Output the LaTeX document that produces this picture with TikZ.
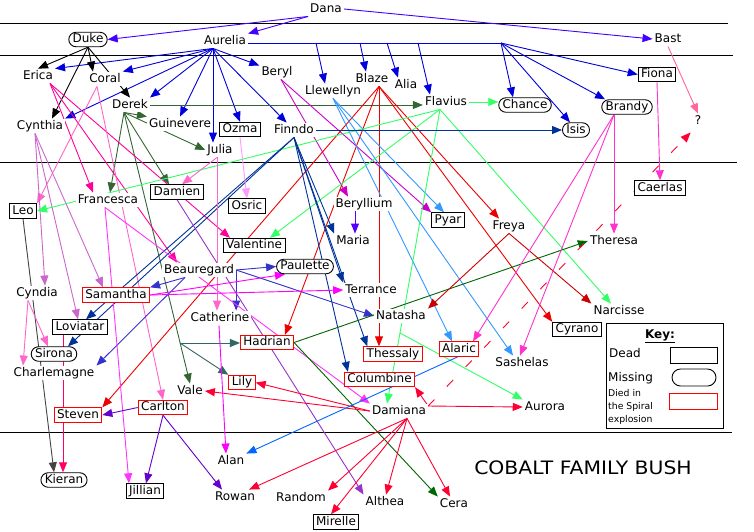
\documentclass[tikz,border=0pt]{standalone}
\usepackage{fontspec}
\setmainfont{DejaVu Sans}
\newfontfamily\titlefont[FakeStretch=1.1]{DejaVu Sans}
\usetikzlibrary{arrows.meta,shapes.misc,backgrounds}
\definecolor{cDana}{RGB}{68,0,255}
\definecolor{cAur}{RGB}{0,0,221}
\definecolor{cDerek}{RGB}{51,102,51}
\definecolor{cErica}{RGB}{255,0,153}
\definecolor{cCoral}{RGB}{255,102,204}
\definecolor{cCyn}{RGB}{204,102,204}
\definecolor{cBeryl}{RGB}{204,0,204}
\definecolor{cBlaze}{RGB}{238,0,0}
\definecolor{cLlew}{RGB}{51,153,255}
\definecolor{cFlav}{RGB}{51,255,102}
\definecolor{cFinn}{RGB}{0,51,153}
\definecolor{cBeau}{RGB}{51,51,204}
\definecolor{cFran}{RGB}{255,51,255}
\definecolor{cDamien}{RGB}{153,51,204}
\definecolor{cOzma}{RGB}{255,153,255}
\definecolor{cSam}{RGB}{255,0,255}
\definecolor{cHad}{RGB}{0,102,0}
\definecolor{cTeal}{RGB}{51,102,102}
\definecolor{cDamiana}{RGB}{255,0,51}
\definecolor{cFreya}{RGB}{204,0,0}
\definecolor{cBrandy}{RGB}{255,51,204}
\definecolor{cBast}{RGB}{255,102,153}
\definecolor{cLeo}{RGB}{68,68,68}
\definecolor{cLov}{RGB}{255,0,102}
\definecolor{cCarl}{RGB}{102,0,204}
\definecolor{cAlaric}{RGB}{0,102,255}
\definecolor{cBeryllium}{RGB}{85,0,255}
\definecolor{cRedBox}{RGB}{255,0,0}
\begin{document}
\begin{tikzpicture}[x=1pt,y=-1pt,
  nm/.style={fill=white, inner xsep=2pt, inner ysep=1.5pt, text height=9pt, text depth=2.5pt, font=\fontsize{12}{14}\selectfont},
  dead/.style={nm, draw=black, line width=0.9pt, inner xsep=3pt},
  spiral/.style={nm, draw=cRedBox, line width=0.9pt, inner xsep=3pt},
  missing/.style={nm, draw=black, line width=0.9pt, rounded rectangle, inner xsep=1pt},
  rel/.style={line width=0.9pt, -{Triangle[length=10pt,width=8pt]}},
  rule/.style={line width=0.9pt, black}]
\useasboundingbox (0,0) rectangle (754,531);
% ---------- nodes ----------
\node[nm] (Dana) at (326,9) {Dana};
\node[missing] (Duke) at (88,39.5) {Duke};
\node[nm] (Aurelia) at (225,41) {Aurelia};
\node[nm] (Bast) at (668,39) {Bast};
\node[nm] (Erica) at (38,76) {Erica};
\node[nm] (Coral) at (105,79) {Coral};
\node[nm] (Beryl) at (277,72) {Beryl};
\node[nm] (Blaze) at (372,79) {Blaze};
\node[nm] (Alia) at (406,85) {Alia};
\node[nm] (Llewellyn) at (333,91) {Llewellyn};
\node[dead] (Fiona) at (657,74.5) {Fiona};
\node[nm] (Flavius) at (446,102) {Flavius};
\node[missing] (Chance) at (525,105) {Chance};
\node[missing] (Brandy) at (627,107) {Brandy};
\node[nm] (Derek) at (130,105) {Derek};
\node[nm] (Cynthia) at (40,126) {Cynthia};
\node[nm] (Guinevere) at (180,124) {Guinevere};
\node[dead] (Ozma) at (240,129.5) {Ozma};
\node[nm] (Finndo) at (294,130) {Finndo};
\node[missing] (Isis) at (576,130) {Isis};
\node[nm] (Julia) at (220,150) {Julia};
\node[nm] (Q) at (698,121) {?};
\node[dead] (Leo) at (23,211) {Leo};
\node[nm] (Francesca) at (108,200) {Francesca};
\node[dead] (Damien) at (177,192) {Damien};
\node[dead] (Osric) at (247,206) {Osric};
\node[dead] (Caerlas) at (660,188) {Caerlas};
\node[nm] (Beryllium) at (364,204) {Beryllium};
\node[dead] (Pyar) at (448,220) {Pyar};
\node[nm] (Freya) at (509,226) {Freya};
\node[dead] (Valentine) at (254,245.5) {Valentine};
\node[nm] (Maria) at (353,241) {Maria};
\node[nm] (Theresa) at (614,241) {Theresa};
\node[nm] (Beauregard) at (199,270) {Beauregard};
\node[missing] (Paulette) at (305,266.5) {Paulette};
\node[nm] (Cyndia) at (37,293) {Cyndia};
\node[spiral] (Samantha) at (116,295) {Samantha};
\node[nm] (Terrance) at (371,290) {Terrance};
\node[nm] (Narcisse) at (619,311) {Narcisse};
\node[dead] (Loviatar) at (80,327) {Loviatar};
\node[nm] (Catherine) at (220,318) {Catherine};
\node[nm] (Natasha) at (401,316) {Natasha};
\node[dead] (Cyrano) at (577,329.5) {Cyrano};
\node[missing] (Sirona) at (54,354) {Sirona};
\node[spiral] (Hadrian) at (267,342.5) {Hadrian};
\node[spiral] (Thessaly) at (393,354) {Thessaly};
\node[spiral] (Alaric) at (459,349) {Alaric};
\node[nm] (Charlemagne) at (54,373) {Charlemagne};
\node[nm] (Sashelas) at (522,363) {Sashelas};
\node[spiral] (Columbine) at (379.5,379.5) {Columbine};
\node[spiral] (Lily) at (242,382.5) {Lily};
\node[nm] (Vale) at (190,391) {Vale};
\node[spiral] (Carlton) at (163,407.5) {Carlton};
\node[spiral] (Steven) at (78,415) {Steven};
\node[nm] (Damiana) at (399,411) {Damiana};
\node[nm] (Aurora) at (545,407) {Aurora};
\node[nm] (Alan) at (231,461) {Alan};
\node[missing] (Kieran) at (64,480) {Kieran};
\node[dead] (Jillian) at (145,491) {Jillian};
\node[nm] (Rowan) at (235,497) {Rowan};
\node[nm] (Random) at (301,498) {Random};
\node[nm] (Althea) at (385,502) {Althea};
\node[nm] (Cera) at (454,504) {Cera};
\node[dead] (Mirelle) at (336,522) {Mirelle};
% title
\node[inner sep=0pt, font=\titlefont\fontsize{18.5}{20}\selectfont] (Title) at (583,468) {COBALT FAMILY BUSH};
% key
\draw[line width=0.9pt] (606,323) rectangle (723,428);
\node[nm, inner sep=0pt] (KeyT) at (660,335) {\underline{\textbf{Key:}}};
\node[nm, anchor=west, inner xsep=0pt] (KeyDead) at (609,354) {Dead};
\node[dead, minimum width=47pt, minimum height=16pt] (KeyDeadBox) at (693.5,355) {};
\node[nm, anchor=west, inner xsep=0pt] (KeyMiss) at (608,378) {Missing};
\node[missing, minimum width=46pt, minimum height=17pt] (KeyMissBox) at (694,377.5) {};
\node[anchor=west, align=left, inner sep=0pt, font=\fontsize{9.3}{13}\selectfont] (KeySpiral) at (608,407) {Died in\\the Spiral\\explosion};
\node[spiral, minimum width=48pt, minimum height=16pt] (KeySpiralBox) at (693,401) {};
% ---------- helper coordinates ----------
\coordinate (AurS) at ([xshift=-12pt]Aurelia.south);
\coordinate (bus) at (501,43);
\coordinate (bus1) at (316,43);
\coordinate (bus2) at (360,43);
\coordinate (bus3) at (387,43);
\coordinate (bus4) at (418,43);
\coordinate (DerS) at ([xshift=-6pt]Derek.south);
\coordinate (J1) at (180,343);
\coordinate (EriS) at ([xshift=12pt]Erica.south);
\coordinate (CorS) at ([xshift=-8pt]Coral.south);
\coordinate (CynS) at ([xshift=-5pt]Cynthia.south);
\coordinate (BerS) at ([xshift=4pt]Beryl.south);
\coordinate (BlzS) at ([xshift=7pt]Blaze.south);
\coordinate (FlaS) at ([xshift=-6pt]Flavius.south);
\coordinate (J3) at (400,333);
\coordinate (BeaSW) at ([xshift=-14pt]Beauregard.south);
\coordinate (FraS) at ([xshift=-3pt]Francesca.south);
\coordinate (JulS) at ([xshift=-3pt]Julia.south);
\coordinate (DamS) at ([xshift=8pt]Damiana.south);
\coordinate (J2) at ([yshift=5pt]Damiana.east);
\coordinate (BraS) at ([xshift=-13pt]Brandy.south);
\coordinate (CydS) at ([xshift=-9pt]Cyndia.south);
% ---------- connectors ----------
\begin{pgfonlayer}{background}
\fill[white] (0,0) rectangle (754,531);
\draw[rule] (0,23) -- (728,23);
\draw[rule] (0,55) -- (733,55);
\draw[rule] (0,162) -- (737,162);
\draw[rule] (0,432) -- (732,432);
% Dana
\draw[rel,cDana] (Dana.south west) -- (Duke.east);
\draw[rel,cDana] (Dana.south west) -- (Aurelia.north east);
\draw[rel,cDana] (Dana.east) -- (Bast.west);
% Aurelia
\draw[rel,cAur] (AurS) -- (Erica.north east);
\draw[rel,cAur] (AurS) -- (Coral.north east);
\draw[rel,cAur] (AurS) -- (Cynthia.north east);
\draw[rel,cAur] (AurS) -- (Derek.north east);
\draw[rel,cAur] (AurS) -- (Guinevere.north);
\draw[rel,cAur] (AurS) -- ([xshift=-7pt]Julia.north);
\draw[rel,cAur] (AurS) -- (Ozma.north);
\draw[rel,cAur] (AurS) -- (Finndo);
\draw[rel,cAur] (AurS) -- (Beryl);
\draw[line width=0.9pt,cAur] (Aurelia.east |- bus) -- (bus);
\draw[rel,cAur] (bus1) -- ([xshift=-8pt]Llewellyn.north);
\draw[rel,cAur] (bus2) -- ([xshift=-6pt]Blaze.north);
\draw[rel,cAur] (bus3) -- ([xshift=-8pt]Alia.north);
\draw[rel,cAur] (bus4) -- ([xshift=-16pt]Flavius.north);
\draw[rel,cAur] (bus) -- ([xshift=-12pt]Chance.north);
\draw[rel,cAur] (bus) -- ([xshift=-6pt]Isis.north);
\draw[rel,cAur] (bus) -- ([xshift=-22pt]Brandy.north);
\draw[rel,cAur] (bus) -- (Fiona.west);
% Duke
\draw[rel,black] (Duke.south) -- (Erica.north);
\draw[rel,black] (Duke.south) -- ([xshift=-12pt]Coral.north);
\draw[rel,black] (Duke.south) -- (Derek.north);
\draw[rel,black] (Duke.south) -- ([xshift=12pt]Cynthia.north);
% Derek
\draw[rel,cDerek] (DerS) -- (Guinevere.north west);
\draw[rel,cDerek] (DerS) -- (Julia.west);
\draw[rel,cDerek] (DerS) -- ([xshift=2pt]Francesca.north);
\draw[rel,cDerek] (DerS) -- ([xshift=-8pt]Damien.north);
\draw[rel,cDerek] (DerS) -- (Vale.north);
\draw[rel,cDerek] (Derek.east) -- (Flavius.west |- Derek.east);
\draw[rel,cTeal] (J1) -- (Hadrian.west |- J1);
\draw[rel,cTeal] (J1) -- (Lily.north west);
% Erica
\draw[rel,cErica] (EriS) -- ([xshift=-15pt]Francesca.north);
\draw[rel,cErica] (EriS) -- ([xshift=-22pt]Beauregard.north);
\draw[rel,cErica] (EriS) -- ([xshift=-24pt]Valentine.north);
% Coral
\draw[rel,cCoral] (CorS) -- (Leo.north east);
\draw[rel,cCoral] (CorS) -- (Carlton.north);
% Cynthia
\draw[rel,cCyn] (CynS) -- ([xshift=8pt]Cyndia.north);
\draw[rel,cCyn] (CynS) -- ([xshift=-13pt]Samantha.north);
\draw[rel,cCyn] (CynS) -- ([xshift=-2pt]Loviatar.north);
% Beryl
\draw[rel,cBeryl] (BerS) -- ([xshift=-16pt]Beryllium.north);
\draw[rel,cBeryl] (BerS) -- (Pyar.north west);
% Blaze
\draw[rel,cBlaze] (BlzS) -- (Steven.north east);
\draw[rel,cBlaze] (BlzS) -- ([xshift=18pt]Hadrian.north);
\draw[rel,cBlaze] (BlzS) -- (Thessaly.north -| BlzS);
\draw[rel,cBlaze] (BlzS) -- ([xshift=-10pt]Freya.north);
\draw[rel,cBlaze] (BlzS) -- (Cyrano.north west);
% Llewellyn
\draw[rel,cLlew] (Llewellyn.south) -- ([xshift=-4pt]Pyar.north);
\draw[rel,cLlew] (Llewellyn.south) -- ([xshift=-7pt]Alaric.north);
\draw[rel,cLlew] (Llewellyn.south) -- ([xshift=-9pt]Sashelas.north);
% Flavius
\draw[rel,cFlav] (Flavius.east) -- (Chance.west |- Flavius.east);
\draw[rel,cFlav] (FlaS) -- (Leo.east);
\draw[rel,cFlav] (FlaS) -- ([xshift=16pt]Valentine.north);
\draw[rel,cFlav] (FlaS) -- (J3) -- ([xshift=-12pt]Damiana.north);
\draw[rel,cFlav] (J3) -- (Aurora.north west);
\draw[rel,cFlav] (FlaS) -- ([xshift=-8pt]Narcisse.north);
% Finndo
\draw[rel,cFinn] (Finndo.east) -- (Isis.west |- Finndo.east);
\draw[rel,cFinn] (Finndo.south) -- (Maria.north west);
\draw[rel,cFinn] (Finndo.south) -- (Terrance.north west);
\draw[rel,cFinn] (Finndo.south) -- ([xshift=4pt]Thessaly.north west);
\draw[rel,cFinn] (Finndo.south) -- ([xshift=4pt]Columbine.north west);
\draw[rel,cFinn] (Finndo.south) -- ([xshift=6pt]Loviatar.north);
\draw[rel,cFinn] (Finndo.south) -- ([xshift=14pt]Sirona.north);
% Beauregard
\draw[rel,cBeau] (Beauregard.east) -- (Paulette.west);
\draw[rel,cBeau] (Beauregard.east) -- (Catherine.north -| Beauregard.east);
\draw[rel,cBeau] (Beauregard.east) -- (Natasha.west);
\draw[rel,cBeau] (BeaSW) -- (Samantha.north east);
\draw[rel,cBeau] (BeaSW) -- (Charlemagne.north east);
% Francesca
\draw[rel,cFran] (FraS) -- ([xshift=-16pt]Jillian.north);
\draw[rel,cFran] (FraS) -- (Damiana.north west);
% Damien
\draw[rel,cDamien] (Damien.south) -- (Althea.north west);
% Julia
\draw[rel,cCoral] (JulS) -- ([xshift=5pt]Damien.north);
\draw[rel,cCoral] (JulS) -- (Catherine.north -| JulS);
% Ozma
\draw[rel,cOzma] (Ozma.south) -- (Osric.north);
% Samantha
\draw[rel,cSam] (Samantha.east) -- (Terrance.west);
\draw[rel,cSam] (Samantha.east) -- ([xshift=-20pt]Paulette.south);
% Hadrian
\draw[rel,cHad] (Hadrian.east) -- (Theresa.west);
\draw[rel,cHad] (Hadrian.east) -- (Cera.north west);
% Damiana
\draw[rel,cDamiana] (DamS) -- (Random.north east);
\draw[rel,cDamiana] (DamS) -- ([xshift=-5pt]Mirelle.north);
\draw[rel,cDamiana] (DamS) -- ([xshift=1pt]Althea.north);
\draw[rel,cDamiana] (DamS) -- ([xshift=-4pt]Cera.north);
\draw[rel,cDamiana] (DamS) -- ([xshift=-8pt]Rowan.north east);
\draw[rel,cDamiana] (Damiana.west) -- (Lily.east);
\draw[rel,cDamiana] (Damiana.west) -- (Vale.east);
\draw[rel,cDamiana] (J2) -- (Columbine.south east);
\draw[rel,cDamiana] (J2) -- (Aurora.west);
\draw[rel,cDamiana,dash pattern=on 9pt off 18pt] (J2) -- ([xshift=-2pt,yshift=-4pt]Q.south west);
% Alaric
\draw[rel,cAlaric] ([xshift=-1pt]Alaric.south) -- (Alan.north east);
% Freya
\draw[rel,cFreya] (Freya.south) -- (Natasha.north east);
\draw[rel,cFreya] (Freya.south) -- (Narcisse.north west);
% Brandy, Fiona, Bast
\draw[rel,cBrandy] (BraS) -- (Theresa.north -| BraS);
\draw[rel,cBrandy] (BraS) -- ([xshift=14pt]Alaric.north);
\draw[rel,cBrandy] (BraS) -- ([xshift=-2pt]Sashelas.north);
\draw[rel,cBrandy] (Fiona.south) -- (Caerlas.north);
\draw[rel,cBast] (Bast.south) -- (Q.north);
% lower left
\draw[rel,cLeo] (Leo.south) -- ([xshift=-10pt]Kieran.north);
\draw[rel,cLov] ([xshift=-17pt]Loviatar.south) -- ([xshift=-1pt]Kieran.north);
\draw[rel,cCarl] (Carlton.west) -- (Steven.east);
\draw[rel,cCarl] (Carlton.south) -- ([xshift=1pt]Jillian.north);
\draw[rel,cCarl] (Carlton.south) -- ([xshift=-13pt]Rowan.north);
\draw[rel,cSam] ([xshift=-1pt]Catherine.south) -- ([xshift=-5pt]Alan.north);
\draw[rel,cCoral] (CydS) -- ([xshift=-31pt]Charlemagne.north);
\draw[rel,cCoral] (CydS) -- ([xshift=-6pt]Sirona.north);
\draw[rel,cBeryllium] ([xshift=-9pt]Beryllium.south) -- ([xshift=2pt]Maria.north);
\end{pgfonlayer}
\end{tikzpicture}
\end{document}
